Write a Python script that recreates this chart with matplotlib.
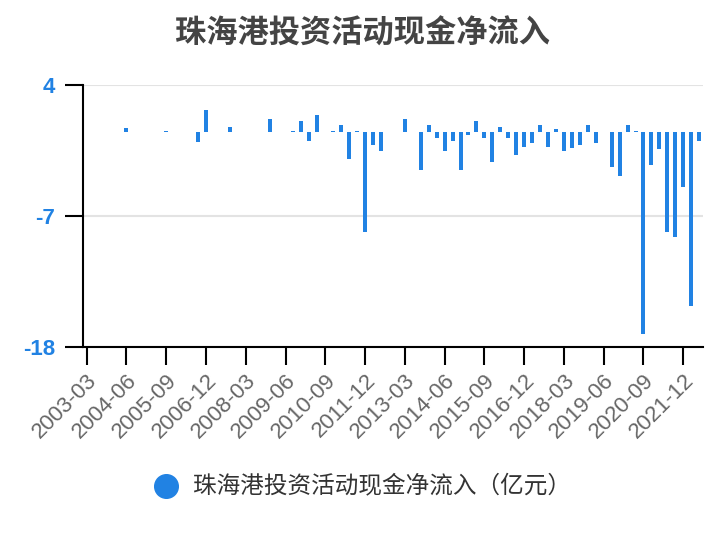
import numpy as np
import matplotlib.pyplot as plt

plt.rcParams['font.family'] = ['Liberation Sans', 'Noto Sans CJK SC', 'DejaVu Sans']

# quarterly categories 2003-03 .. 2022-06
quarters = ['%d-%02d' % (y, m) for y in range(2003, 2023) for m in (3, 6, 9, 12)][:78]

# net cash flow from investing activities (100m CNY), nan = no data
values = [np.nan, np.nan, np.nan, np.nan, np.nan, 0.33, np.nan, np.nan, np.nan, np.nan,
          0.15, np.nan, np.nan, np.nan, -0.8, 1.9, np.nan, np.nan, 0.45, np.nan,
          np.nan, np.nan, np.nan, 1.1, np.nan, np.nan, 0.14, 0.97, -0.7, 1.45,
          np.nan, 0.14, 0.65, -2.25, 0.14, -8.4, -1.05, -1.55, np.nan, np.nan,
          1.1, np.nan, -3.2, 0.6, -0.5, -1.55, -0.7, -3.2, -0.2, 0.97,
          -0.5, -2.5, 0.48, -0.5, -1.9, -1.2, -0.9, 0.6, -1.2, 0.28,
          -1.55, -1.35, -1.05, 0.6, -0.9, np.nan, -2.9, -3.7, 0.6, 0.14,
          -16.9, -2.75, -1.4, -8.4, -8.75, -4.55, -14.6, -0.7]

yticks = [4, -7, -18]
title = '珠海港投资活动现金净流入'
series_name = '珠海港投资活动现金净流入（亿元）'

blue = '#2182e3'
cjk = ['Noto Sans CJK SC', 'DejaVu Sans']

fig = plt.figure(figsize=(7.24, 5.4), dpi=100)
ax = fig.add_axes([0.1142, 0.358, 0.857, 0.485])

x = np.arange(len(quarters))
ax.bar(x, values, width=0.5, color=blue, zorder=3)

ax.set_xlim(-0.5, len(quarters) - 0.5)
ax.set_ylim(-18, 4)
ax.set_yticks(yticks)
ax.set_yticklabels([str(v) for v in yticks], color=blue, fontsize=16, fontweight='bold')
ax.set_xticks(x[::5])
ax.set_xticklabels(quarters[::5], rotation=45, ha='right', va='top',
                   rotation_mode='anchor', color='#666666', fontsize=16)

ax.grid(axis='y', color='#e3e3e3', linewidth=1.5, zorder=0)
ax.tick_params(axis='both', length=13, width=1.5, color='black')
ax.tick_params(axis='y', pad=7)
ax.tick_params(axis='x', pad=4)
for s in ['top', 'right']:
    ax.spines[s].set_visible(False)
for s in ['left', 'bottom']:
    ax.spines[s].set_linewidth(1.5)

fig.text(0.5, 0.938, title, ha='center', va='center', fontsize=22.5,
         fontweight='bold', color='#444444', family=cjk)

# legend
fig.lines.append(plt.Line2D([166 / 724], [1 - 486 / 540], marker='o', markersize=17,
                            color=blue, linestyle='none', transform=fig.transFigure))
fig.text(193 / 724, 1 - 486 / 540, series_name, ha='left', va='center', fontsize=17,
         color='#333333', fontweight='medium', family=cjk)

fig.savefig('out.png', dpi=100)
